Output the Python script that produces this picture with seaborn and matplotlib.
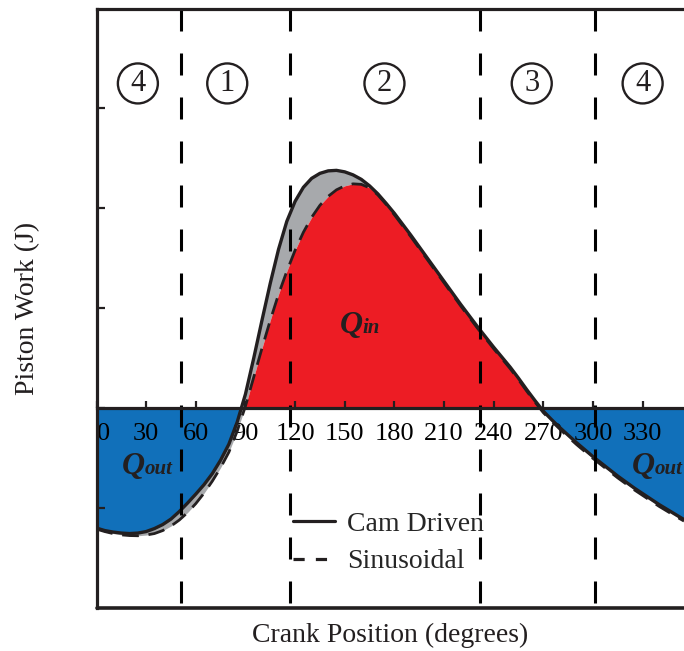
import numpy as np
import pandas as pd
import matplotlib
matplotlib.use("Agg")
import matplotlib.pyplot as plt
from matplotlib.lines import Line2D
import seaborn as sns

# ---------------- data ----------------
crank_deg = list(range(0, 356, 5))
cam_driven = [-1.20, -1.225, -1.24, -1.25, -1.255, -1.25, -1.235, -1.205, -1.165, -1.11,
              -1.035, -0.95, -0.86, -0.765, -0.655, -0.52, -0.36, -0.14, 0.14, 0.50,
              0.88, 1.25, 1.59, 1.87, 2.07, 2.21, 2.30, 2.35, 2.375, 2.38,
              2.365, 2.335, 2.29, 2.225, 2.145, 2.05, 1.95, 1.84, 1.73, 1.615,
              1.50, 1.385, 1.27, 1.155, 1.04, 0.93, 0.82, 0.715, 0.61, 0.51,
              0.41, 0.30, 0.185, 0.075, -0.03, -0.115, -0.195, -0.27, -0.345, -0.415,
              -0.485, -0.55, -0.615, -0.68, -0.74, -0.80, -0.855, -0.91, -0.965, -1.015,
              -1.065, -1.115]
sinusoidal = [-1.21, -1.235, -1.255, -1.268, -1.275, -1.277, -1.27, -1.255, -1.225, -1.18,
              -1.12, -1.045, -0.955, -0.85, -0.73, -0.595, -0.44, -0.23, 0.02, 0.31,
              0.60, 0.88, 1.14, 1.37, 1.58, 1.76, 1.91, 2.03, 2.12, 2.185,
              2.225, 2.245, 2.24, 2.205, 2.135, 2.04, 1.935, 1.825, 1.715, 1.60,
              1.485, 1.37, 1.255, 1.14, 1.025, 0.915, 0.805, 0.70, 0.595, 0.495,
              0.395, 0.285, 0.17, 0.06, -0.045, -0.13, -0.21, -0.288, -0.363, -0.433,
              -0.503, -0.568, -0.633, -0.698, -0.758, -0.818, -0.873, -0.928, -0.983, -1.033,
              -1.083, -1.13]
phase_bounds = [51, 117, 232, 301]
phase_labels = ["4", "1", "2", "3", "4"]
phase_label_x = [25, 79, 174, 263, 330]
xtick_vals = list(range(0, 331, 30))
xtick_labels = [str(v) for v in xtick_vals]
q_labels = [("Q", "in", 154.0, 0.83), ("Q", "out", 22.0, -0.58), ("Q", "out", 330.5, -0.58)]

# ---------------- style ----------------
sns.set_style("white")
plt.rcParams["font.family"] = ["Liberation Serif", "DejaVu Serif"]
INK = "#231F20"
RED = "#ED1C24"
BLUE = "#1170BA"
GREY = "#A7A9AC"

df = pd.DataFrame({"deg": crank_deg * 2,
                   "work": cam_driven + sinusoidal,
                   "series": ["Cam Driven"] * len(crank_deg) + ["Sinusoidal"] * len(crank_deg)})

fig = plt.figure(figsize=(6.84, 6.51), dpi=100)
ax = fig.add_axes([96.5 / 684, 1 - 608 / 651, 1 - 96.5 / 684, (608 - 8.5) / 651])
ax.set_axisbelow(False)

x = np.array(crank_deg, dtype=float)
c = np.array(cam_driven)
s = np.array(sinusoidal)

# fills
ax.fill_between(x, c, s, color=GREY, lw=0, zorder=1)
lo = np.minimum(c, s)
hi = np.maximum(c, s)
ax.fill_between(x, 0, lo, where=lo > 0, interpolate=True, color=RED, lw=0, zorder=2)
ax.fill_between(x, 0, hi, where=hi < 0, interpolate=True, color=BLUE, lw=0, zorder=2)

# curves
sns.lineplot(data=df[df.series == "Cam Driven"], x="deg", y="work", ax=ax,
             color=INK, lw=2.4, zorder=5, legend=False)
sns.lineplot(data=df[df.series == "Sinusoidal"], x="deg", y="work", ax=ax,
             color=INK, lw=2.0, zorder=4, legend=False)
ax.lines[-1].set_dashes((6, 3.5))

# phase boundary dashed lines
for b in phase_bounds:
    ax.plot([b, b], [4, -2], color="black", lw=2.2, dashes=(7.2, 7.2), zorder=6,
            clip_on=False)

ax.set_xlim(0, 355)
ax.set_ylim(-2, 4)

# spines
ax.spines["bottom"].set_position(("data", 0))
ax.spines["right"].set_visible(False)
for sp in ["bottom", "top", "left"]:
    ax.spines[sp].set_linewidth(2.3)
    ax.spines[sp].set_color(INK)
    ax.spines[sp].set_zorder(7)
ax.axhline(-2, color=INK, lw=2.6, clip_on=False, zorder=7)

ax.set_xticks(xtick_vals)
ax.set_xticklabels(xtick_labels)
ax.set_yticks([-1, 0, 1, 2, 3])
ax.set_yticklabels([])
ax.tick_params(axis="x", direction="in", length=5, width=1.6, color=INK,
               labelsize=19, pad=11, bottom=True, labelcolor="black")
ax.tick_params(axis="y", direction="in", length=6, width=1.6, color=INK, left=True)
lbls = ax.get_xticklabels()
lbls[0].set_horizontalalignment("left")

ax.set_xlabel("")
ax.set_ylabel("")
fig.text((96.5 + 684) / 2 / 684, 1 - 635 / 651, "Crank Position (degrees)",
         ha="center", va="center", fontsize=20, color=INK)
fig.text(28 / 684, 1 - 308 / 651, "Piston Work (J)", rotation=90,
         ha="center", va="center", fontsize=20, color=INK)

# circled phase numbers
for lab, px in zip(phase_labels, phase_label_x):
    ax.text(px, 3.25, lab, ha="center", va="center", fontsize=22, color=INK,
            bbox=dict(boxstyle="circle,pad=0.18", fc="white", ec=INK, lw=1.7),
            zorder=8)

# Q labels
for big, sub, qx, qy in q_labels:
    t = ax.text(qx, qy, big, ha="center", va="center", fontsize=23,
                fontweight="bold", fontstyle="italic", color=INK, zorder=8)
    ax.annotate(sub, xy=(1.0, 0.06), xycoords=t, ha="left", va="bottom",
                fontsize=15, fontweight="bold", fontstyle="italic", color=INK,
                zorder=8)

# legend
handles = [Line2D([], [], color=INK, lw=2.3),
           Line2D([], [], color=INK, lw=2.3, dashes=(3.5, 3.5))]
ax.legend(handles, ["Cam Driven", "Sinusoidal"], loc="upper left",
          bbox_to_anchor=((293 - 96.5) / (684 - 96.5), (608 - 511) / 600),
          frameon=False, fontsize=20, handlelength=1.5, handletextpad=0.45,
          borderpad=0, borderaxespad=0, labelspacing=0.45)

fig.savefig("out.png", dpi=100)
